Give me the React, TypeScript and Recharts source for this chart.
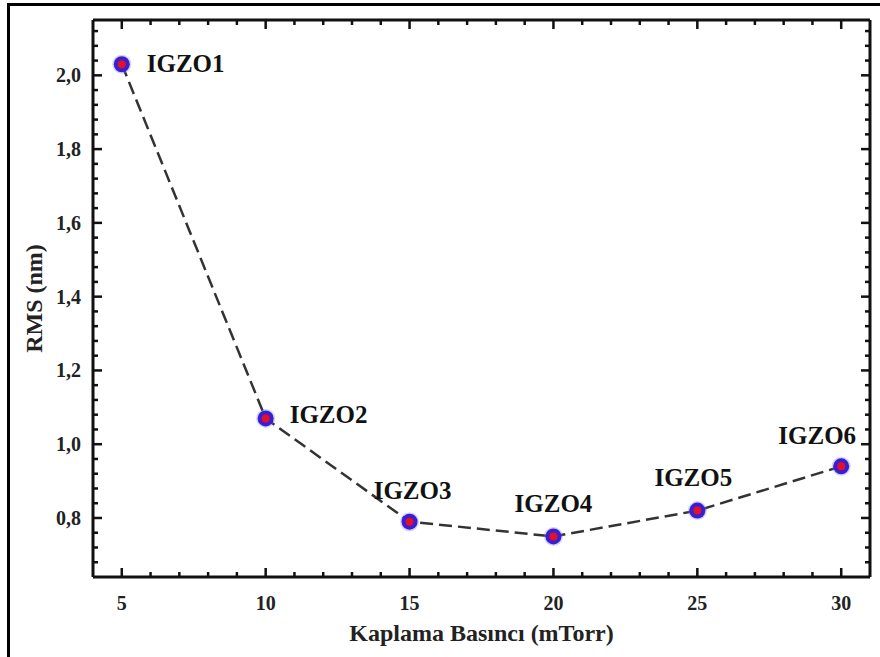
import React from 'react';
import { LineChart, Line, XAxis, YAxis, LabelList } from 'recharts';

const samples = ['IGZO1', 'IGZO2', 'IGZO3', 'IGZO4', 'IGZO5', 'IGZO6'];
const pressure = [5, 10, 15, 20, 25, 30];
const rms = [2.03, 1.07, 0.79, 0.75, 0.82, 0.94];

const X_DOMAIN: [number, number] = [4, 31];
const Y_DOMAIN: [number, number] = [0.64, 2.15];

// tick positions: every 1 on x (labels every 5), every 0.04 on y (labels every 0.2)
const xTicks = [5, 6, 7, 8, 9, 10, 11, 12, 13, 14, 15, 16, 17, 18, 19, 20, 21, 22, 23, 24, 25, 26, 27, 28, 29, 30];
const yTicks = [
  0.68, 0.72, 0.76, 0.8, 0.84, 0.88, 0.92, 0.96, 1.0, 1.04, 1.08, 1.12, 1.16, 1.2, 1.24, 1.28,
  1.32, 1.36, 1.4, 1.44, 1.48, 1.52, 1.56, 1.6, 1.64, 1.68, 1.72, 1.76, 1.8, 1.84, 1.88, 1.92,
  1.96, 2.0, 2.04, 2.08, 2.12,
];

const data = samples.map((name, i) => ({ name, p: pressure[i], rms: rms[i] }));

// where each sample label sits relative to its point
const labelStyle: Record<string, { dx: number; dy: number; anchor: 'start' | 'middle' }> = {
  IGZO1: { dx: 25, dy: 8, anchor: 'start' },
  IGZO2: { dx: 24, dy: 5, anchor: 'start' },
  IGZO3: { dx: 3, dy: -23, anchor: 'middle' },
  IGZO4: { dx: 0, dy: -24, anchor: 'middle' },
  IGZO5: { dx: -4, dy: -25, anchor: 'middle' },
  IGZO6: { dx: -24, dy: -22, anchor: 'middle' },
};

const FONT = '"Liberation Serif", "Times New Roman", serif';
const tickFont = { fontFamily: FONT, fontWeight: 'bold' as const, fontSize: 20 };
const frame = { stroke: '#111', strokeWidth: 3 };

const isMajor = (v: number, step: number) => Math.abs(v / step - Math.round(v / step)) < 1e-6;

// inward tick marks drawn as small filled rects
function makeTick(side: 'bottom' | 'top' | 'left' | 'right') {
  return (props: any) => {
    const x = Number(props.x);
    const y = Number(props.y);
    const v = Number(props.payload.value);
    const major = side === 'bottom' || side === 'top' ? isMajor(v, 5) : isMajor(v, 0.2);
    const len = major ? 9 : 5;
    const w = 2.5;
    let r = { x: 0, y: 0, width: 0, height: 0 };
    if (side === 'bottom') r = { x: x - w / 2, y: y - len, width: w, height: len };
    else if (side === 'top') r = { x: x - w / 2, y, width: w, height: len };
    else if (side === 'left') r = { x, y: y - w / 2, width: len, height: w };
    else r = { x: x - len, y: y - w / 2, width: len, height: w };
    return (
      <g>
        <rect x={r.x} y={r.y} width={r.width} height={r.height} fill="#111" />
        {major && side === 'bottom' && (
          <text x={x} y={y + 33} textAnchor="middle" fill="#222" style={tickFont}>
            {v}
          </text>
        )}
        {major && side === 'left' && (
          <text x={x - 12} y={y + 7} textAnchor="end" fill="#222" style={tickFont}>
            {v.toFixed(1).replace('.', ',')}
          </text>
        )}
      </g>
    );
  };
}

const SampleDot = (props: any) => {
  const { cx, cy, index } = props;
  return (
    <g key={`dot-${index}`}>
      <circle cx={cx} cy={cy} r={9.5} fill="#7b7bf5" opacity={0.35} />
      <circle cx={cx} cy={cy} r={8} fill="#3a1fcf" />
      <circle cx={cx} cy={cy} r={4} fill="#e3102b" />
    </g>
  );
};

const SampleLabel = (props: any) => {
  const { x, y, value } = props;
  const s = labelStyle[value] || { dx: 0, dy: -22, anchor: 'middle' };
  return (
    <text x={x + s.dx} y={y + s.dy} textAnchor={s.anchor} fill="#111"
      style={{ fontFamily: FONT, fontWeight: 'bold', fontSize: 25 }}>
      {value}
    </text>
  );
};

export default function App() {
  return (
    <div style={{ position: 'absolute', left: 0, top: 0, width: 880, height: 657, overflow: 'hidden', background: '#fff' }}>
      <div style={{ position: 'absolute', left: 7, top: 3, width: 900, height: 700, border: '3px solid #000' }} />
      <div style={{ position: 'absolute', left: 0, top: 0 }}>
        <LineChart width={880} height={657} data={data} margin={{ top: 0, right: 0, bottom: 0, left: 0 }}>
          <XAxis
            xAxisId="bottom"
            dataKey="p"
            type="number"
            domain={X_DOMAIN}
            ticks={xTicks}
            interval={0}
            height={80}
            tickSize={0}
            tickMargin={0}
            tickLine={false}
            axisLine={frame}
            tick={makeTick('bottom')}
            label={{
              content: (p: any) => {
                const vb = p.viewBox;
                return (
                  <text x={vb.x + vb.width / 2} y={vb.y + 64} textAnchor="middle" fill="#222"
                    style={{ fontFamily: FONT, fontWeight: 'bold', fontSize: 24 }}>
                    Kaplama Basıncı (mTorr)
                  </text>
                );
              },
            }}
          />
          <XAxis
            xAxisId="top"
            orientation="top"
            dataKey="p"
            type="number"
            domain={X_DOMAIN}
            ticks={xTicks}
            interval={0}
            height={20}
            tickSize={0}
            tickMargin={0}
            tickLine={false}
            axisLine={frame}
            tick={makeTick('top')}
          />
          <YAxis
            yAxisId="left"
            type="number"
            domain={Y_DOMAIN}
            ticks={yTicks}
            interval={0}
            width={93}
            tickSize={0}
            tickMargin={0}
            tickLine={false}
            axisLine={frame}
            tick={makeTick('left')}
            label={{
              content: (p: any) => {
                const vb = p.viewBox;
                const cx = vb.x + 34;
                const cy = vb.y + vb.height / 2;
                return (
                  <text x={cx} y={cy} textAnchor="middle" dominantBaseline="central" fill="#222"
                    transform={`rotate(-90 ${cx} ${cy})`}
                    style={{ fontFamily: FONT, fontWeight: 'bold', fontSize: 24 }}>
                    RMS (nm)
                  </text>
                );
              },
            }}
          />
          <YAxis
            yAxisId="right"
            orientation="right"
            type="number"
            domain={Y_DOMAIN}
            ticks={yTicks}
            interval={0}
            width={10}
            tickSize={0}
            tickMargin={0}
            tickLine={false}
            axisLine={frame}
            tick={makeTick('right')}
          />
          <Line
            xAxisId="top"
            yAxisId="right"
            dataKey="rms"
            stroke="none"
            dot={false}
            activeDot={false}
            isAnimationActive={false}
          />
          <Line
            xAxisId="bottom"
            yAxisId="left"
            type="linear"
            dataKey="rms"
            stroke="#333"
            strokeWidth={2.5}
            strokeDasharray="13 6"
            dot={SampleDot}
            activeDot={false}
            isAnimationActive={false}
          >
            <LabelList dataKey="name" content={SampleLabel} />
          </Line>
        </LineChart>
      </div>
    </div>
  );
}
